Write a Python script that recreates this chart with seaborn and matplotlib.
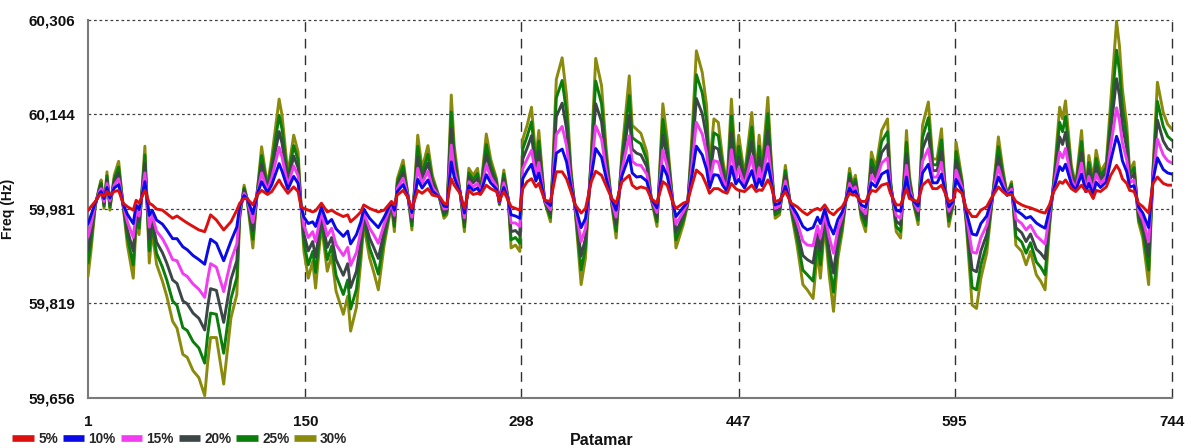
import numpy as np
import pandas as pd
import matplotlib
matplotlib.use("Agg")
import matplotlib.pyplot as plt
import seaborn as sns
from matplotlib.lines import Line2D

# Hourly dispatch level (patamar) at which each deviation was sampled
patamar = [
    1, 3, 6, 9, 10, 12, 14, 16, 19, 22, 25, 28, 32, 34, 36, 40, 43, 45, 48,
    52, 55, 59, 62, 66, 69, 73, 77, 81, 83, 85, 89, 94, 99, 103, 105,
    108, 110, 114, 117, 120, 124, 127, 132, 134, 138, 142, 145, 147,
    149, 152, 155, 157, 161, 165, 168, 171, 176, 179, 181, 185, 188, 190, 194, 197, 200, 204,
    209, 211, 213, 217, 220, 223, 227, 230, 234, 237, 242, 245, 247,
    250, 252, 256, 259, 262, 265, 268, 270, 274, 277, 281, 283, 286, 289, 291, 294, 297,
    299, 302, 305, 308, 310, 314, 318, 322, 326, 329, 332, 335, 339, 342, 346, 349, 353, 356, 360, 363, 367, 372,
    374, 377, 380, 384, 387, 391, 395, 398, 402, 404, 409, 412, 415, 418, 422, 425, 427, 430, 433, 436, 439, 442, 445, 447,
    451, 456, 459, 461, 463, 467, 469, 472, 475, 479, 483, 487, 491, 494,
    498, 501, 503, 506, 509, 512, 515, 518, 523, 525, 527, 531, 534, 538, 541, 545, 549, 551, 555, 558,
    562, 564, 567, 570, 573, 577, 580, 583, 586, 588, 591, 594, 596, 600, 603, 607, 610, 613, 617,
    620, 625, 628, 631, 634, 637, 641, 644, 647, 651, 654, 657, 660,
    663, 667, 669, 671, 675, 678, 682, 685, 687, 690, 692, 695, 699, 702,
    706, 708, 710, 713, 715, 718, 721, 724, 728, 731, 734, 738, 741, 744,
]

# Frequency deviation from the 59.981 Hz reference, in mHz, per penetration level
dev_5 = [
    -3, 4, 13, 24, 25, 22, 30, 24, 30, 32, 10, 4, -2, 15, 10, 32, 10, 7, 0,
    -2, -8, -16, -12, -19, -24, -30, -36, -39, -25, -10, -19, -36, -22, -2, 10,
    18, 18, 7, 24, 32, 25, 30, 50, 41, 27, 38, 30, 4,
    1, -2, -5, -3, 10, -5, -2, -7, -13, -10, -22, -13, -5, 7, 1, -2, -5, -2,
    13, 7, 24, 32, 21, 1, 32, 27, 35, 24, 21, 10, 8,
    52, 41, 27, 1, 32, 25, 27, 25, 41, 35, 30, 15, 30, 15, 4, 1, -2,
    35, 47, 52, 38, 44, 15, 13, 64, 64, 52, 30, 7, -7, 1, 47, 65, 58, 41, 18, 10, 47, 58,
    41, 35, 38, 35, 18, 10, 47, 41, 10, 1, 10, 13, 41, 67, 58, 41, 27, 35, 35, 30, 27, 44, 35, 32,
    30, 41, 30, 33, 32, 50, 41, 13, 15, 30, 10, 4, -5, -10,
    -2, 1, -2, 7, -5, -10, -2, 4, 27, 24, 24, 13, 13, 32, 30, 41, 44, 27, 7, 7,
    35, 18, 15, 13, 41, 50, 35, 35, 41, 30, 13, 15, 35, 27, 1, -13, -13, -2, 4,
    18, 38, 30, 24, 25, 13, 7, 4, 2, -2, -5, -7, 7,
    30, 47, 44, 50, 35, 30, 41, 30, 32, 18, 32, 30, 38, 58,
    75, 67, 52, 44, 32, 30, 10, 4, -7, 44, 55, 44, 41, 41,
]
dev_10 = [
    -26, -11, 11, 27, 30, 18, 37, 19, 36, 42, 9, -9, -25, 7, -1, 47, -11, -2, -19,
    -26, -36, -51, -51, -65, -70, -80, -87, -95, -73, -52, -59, -89, -55, -31, 5,
    23, 18, -8, 25, 47, 28, 42, 78, 65, 34, 56, 44, 5,
    -14, -25, -22, -30, 3, -25, -18, -34, -47, -38, -60, -44, -22, 0, -16, -24, -32, -14,
    12, -2, 30, 42, 23, -6, 51, 36, 50, 31, 20, 5, 4,
    81, 55, 28, -7, 40, 32, 36, 26, 59, 45, 34, 13, 37, 16, -10, -12, -16,
    52, 66, 77, 48, 62, 15, 6, 96, 103, 81, 38, 5, -32, -16, 57, 104, 89, 55, 16, -2, 57, 92,
    62, 55, 56, 48, 18, 2, 74, 57, 9, -13, 3, 12, 58, 108, 93, 68, 36, 59, 58, 41, 30, 73, 43, 51,
    36, 66, 36, 52, 40, 78, 52, 7, 10, 39, 7, -9, -30, -36,
    -32, -14, -25, 0, -27, -43, -18, -5, 36, 27, 31, 7, 3, 45, 38, 60, 66, 32, -2, -4,
    55, 26, 13, 5, 62, 77, 45, 45, 60, 36, 4, 13, 51, 32, -5, -43, -45, -25, -12,
    13, 55, 38, 24, 29, -2, -9, -16, -13, -24, -29, -33, -1,
    34, 73, 66, 77, 43, 32, 60, 30, 44, 25, 46, 37, 47, 83,
    125, 110, 83, 64, 38, 40, 4, -7, -32, 49, 88, 68, 62, 60,
]
dev_15 = [
    -48, -27, 10, 31, 35, 13, 44, 14, 41, 52, 9, -22, -49, -2, -12, 62, -31, -11, -38,
    -51, -65, -87, -89, -111, -116, -129, -138, -152, -121, -94, -100, -142, -88, -60, 0,
    27, 18, -23, 26, 62, 31, 54, 106, 89, 40, 74, 57, 5,
    -29, -49, -39, -56, -5, -46, -33, -61, -80, -66, -97, -75, -39, -7, -33, -45, -59, -26,
    11, -11, 35, 53, 25, -14, 70, 44, 65, 38, 20, 0, 1,
    110, 68, 28, -15, 47, 38, 44, 27, 76, 55, 39, 12, 45, 16, -24, -24, -30,
    69, 86, 101, 57, 80, 14, -1, 128, 142, 109, 46, 2, -56, -33, 67, 143, 120, 68, 13, -14, 67, 126,
    82, 76, 75, 60, 18, -6, 101, 73, 9, -26, -5, 11, 75, 149, 129, 96, 44, 83, 81, 52, 33, 102, 51, 70,
    41, 91, 41, 71, 47, 107, 64, 1, 5, 48, 4, -22, -55, -62,
    -63, -29, -49, -7, -48, -76, -35, -13, 44, 31, 38, 1, -8, 58, 46, 79, 88, 37, -11, -16,
    75, 34, 12, -3, 82, 104, 55, 55, 80, 41, -4, 12, 67, 37, -10, -74, -76, -49, -28,
    9, 72, 46, 24, 34, -17, -25, -36, -28, -46, -53, -60, -9,
    39, 98, 88, 104, 51, 34, 79, 30, 56, 32, 60, 44, 55, 108,
    174, 152, 114, 84, 45, 50, -3, -18, -56, 54, 120, 93, 83, 79,
]
dev_20 = [
    -71, -42, 8, 34, 40, 9, 50, 8, 47, 62, 8, -36, -72, -10, -22, 78, -52, -21, -57,
    -75, -93, -122, -128, -158, -163, -179, -188, -208, -169, -137, -140, -195, -121, -89, -6,
    32, 18, -37, 28, 77, 34, 66, 133, 113, 47, 91, 71, 6,
    -43, -72, -56, -83, -12, -66, -49, -87, -114, -94, -135, -107, -56, -13, -50, -67, -85, -38,
    10, -21, 41, 63, 26, -21, 89, 53, 79, 44, 19, -6, -3,
    138, 82, 29, -23, 55, 45, 53, 28, 94, 66, 43, 10, 52, 17, -39, -37, -45,
    86, 105, 126, 67, 99, 14, -8, 159, 182, 138, 54, 0, -81, -50, 78, 181, 150, 82, 11, -26, 78, 161,
    103, 96, 93, 73, 18, -14, 127, 89, 8, -40, -12, 9, 93, 190, 164, 123, 53, 107, 103, 64, 35, 131, 59, 89,
    47, 116, 47, 89, 55, 135, 75, -4, 0, 57, 1, -36, -80, -87,
    -93, -43, -72, -13, -70, -110, -51, -22, 53, 34, 44, -4, -18, 72, 54, 97, 111, 42, -21, -27,
    95, 42, 10, -11, 103, 130, 66, 66, 99, 47, -13, 10, 83, 42, -16, -104, -108, -72, -44,
    4, 90, 54, 24, 38, -32, -41, -56, -43, -69, -76, -86, -17,
    43, 124, 111, 132, 59, 37, 97, 30, 68, 38, 73, 50, 64, 134,
    224, 195, 144, 104, 51, 61, -9, -28, -81, 60, 153, 117, 104, 99,
]
dev_25 = [
    -93, -58, 7, 38, 45, 5, 57, 3, 52, 72, 8, -49, -96, -19, -33, 93, -72, -30, -76,
    -100, -122, -158, -166, -204, -209, -228, -239, -265, -217, -179, -181, -248, -154, -118, -11,
    36, 18, -52, 29, 92, 37, 78, 161, 137, 53, 109, 84, 6,
    -58, -96, -73, -109, -20, -87, -64, -114, -147, -122, -172, -138, -73, -20, -67, -88, -112, -50,
    8, -30, 46, 74, 28, -29, 108, 61, 94, 51, 19, -11, -6,
    167, 95, 29, -31, 62, 51, 61, 29, 111, 76, 48, 9, 60, 17, -53, -49, -59,
    103, 125, 150, 76, 117, 13, -15, 191, 221, 166, 62, -3, -105, -67, 88, 220, 181, 95, 9, -38, 88, 195,
    123, 117, 112, 85, 18, -22, 154, 105, 8, -53, -20, 8, 110, 231, 200, 151, 61, 131, 126, 75, 38, 160, 67, 108,
    52, 141, 52, 108, 62, 164, 87, -10, -5, 66, -2, -49, -105, -113,
    -124, -58, -96, -20, -91, -143, -68, -30, 61, 38, 51, -10, -29, 85, 62, 116, 133, 47, -30, -39,
    115, 50, 9, -19, 123, 157, 76, 76, 119, 52, -21, 9, 99, 47, -21, -135, -139, -96, -60,
    0, 107, 62, 24, 43, -47, -57, -76, -58, -91, -100, -113, -25,
    48, 149, 133, 159, 67, 39, 116, 30, 80, 45, 87, 57, 72, 159,
    273, 237, 175, 124, 58, 71, -16, -39, -105, 65, 185, 142, 125, 118,
]
dev_30 = [
    -116, -73, 5, 41, 50, 1, 64, -2, 58, 82, 7, -62, -119, -27, -44, 108, -93, -39, -95,
    -124, -150, -193, -205, -250, -255, -278, -290, -321, -265, -221, -221, -301, -187, -147, -16,
    41, 18, -67, 30, 107, 40, 90, 189, 161, 60, 127, 98, 7,
    -73, -119, -90, -136, -27, -107, -80, -141, -181, -150, -210, -169, -90, -27, -84, -110, -139, -62,
    7, -39, 52, 84, 30, -36, 127, 70, 109, 58, 18, -16, -10,
    196, 109, 30, -39, 70, 58, 70, 30, 129, 86, 52, 7, 67, 18, -67, -62, -73,
    120, 144, 175, 86, 135, 13, -22, 223, 260, 195, 70, -5, -130, -84, 98, 259, 212, 109, 7, -50, 98, 229,
    144, 137, 130, 98, 18, -30, 181, 121, 7, -67, -27, 7, 127, 272, 235, 178, 70, 155, 149, 86, 41, 189, 75, 127,
    58, 166, 58, 127, 70, 192, 98, -16, -10, 75, -5, -62, -130, -139,
    -154, -73, -119, -27, -113, -176, -84, -39, 70, 41, 58, -16, -39, 98, 70, 135, 155, 52, -39, -50,
    135, 58, 7, -27, 144, 184, 86, 86, 138, 58, -30, 7, 115, 52, -27, -165, -171, -119, -76,
    -5, 124, 70, 24, 47, -62, -73, -96, -73, -113, -124, -139, -33,
    52, 175, 155, 186, 75, 41, 135, 30, 92, 52, 101, 64, 81, 184,
    323, 280, 206, 144, 64, 81, -22, -50, -130, 70, 218, 166, 146, 137,
]

series_labels = ["5%", "10%", "15%", "20%", "25%", "30%"]
series_devs = [dev_5, dev_10, dev_15, dev_20, dev_25, dev_30]
series_colors = ["#DD1010", "#0A0AE6", "#F23CF2", "#3C4646", "#0B7D0B", "#8A8A0C"]

nominal_hz = 59.981
x_ticks = [1, 150, 298, 447, 595, 744]
y_ticks = [59.656, 59.819, 59.981, 60.144, 60.306]
y_tick_labels = ["59,656", "59,819", "59,981", "60,144", "60,306"]

frames = []
for lab, dev in zip(series_labels, series_devs):
    frames.append(pd.DataFrame({
        "Patamar": patamar,
        "Freq": nominal_hz + np.asarray(dev, dtype=float) / 1000.0,
        "Serie": lab,
    }))
data = pd.concat(frames, ignore_index=True)

sns.set_theme(style="white")
plt.rcParams["font.family"] = ["Liberation Sans", "DejaVu Sans"]
plt.rcParams["font.weight"] = "bold"

W, H = 1191, 448
fig = plt.figure(figsize=(W / 100, H / 100), dpi=100)
ax = fig.add_axes([88 / W, 1 - 398 / H, (1172 - 88) / W, (398 - 20) / H])

# the widest band is drawn underneath, the 5 % curve on top
handles = []
for k, (lab, col) in enumerate(zip(series_labels, series_colors)):
    sub = data[data["Serie"] == lab]
    sns.lineplot(data=sub, x="Patamar", y="Freq", color=col, linewidth=2.1,
                 ax=ax, zorder=10 - k, legend=False, estimator=None)
    handles.append(Line2D([0], [0], color=col, lw=4.8, solid_capstyle="butt"))

ax.set_xlim(x_ticks[0], x_ticks[-1])
ax.set_ylim(y_ticks[0], y_ticks[-1])

# grid: dashed verticals, dotted horizontals
for xv in x_ticks[1:]:
    ax.axvline(xv, color="#303030", lw=1.0, ls=(0, (7, 5)), zorder=1, clip_on=False)
for yv in y_ticks[1:]:
    ax.axhline(yv, color="#404040", lw=0.9, ls=(0, (2.2, 2.2)), zorder=1, clip_on=False)

for side in ("top", "right"):
    ax.spines[side].set_visible(False)
for side in ("left", "bottom"):
    ax.spines[side].set_color("#7a7a7a")
    ax.spines[side].set_linewidth(1.5)

ax.set_xticks(x_ticks)
ax.set_xticklabels([str(v) for v in x_ticks])
ax.set_yticks(y_ticks)
ax.set_yticklabels(y_tick_labels)
ax.tick_params(axis="y", direction="out", length=5, width=1.2, color="#7a7a7a",
               pad=4, labelsize=11, labelcolor="#111111")
ax.tick_params(axis="x", direction="inout", length=10, width=1.2, color="#555555",
               pad=7, labelsize=11, labelcolor="#111111")
for t in ax.get_xticklabels() + ax.get_yticklabels():
    t.set_fontweight("bold")

ax.set_xlabel("")
ax.set_ylabel("Freq (Hz)", fontsize=10, fontweight="bold", color="#111111")
ax.yaxis.set_label_coords(-(88 - 15) / (1172 - 88), 0.5)

fig.text(602 / W, 1 - 440 / H, "Patamar", ha="center", va="center",
         fontsize=11.5, fontweight="bold", color="#111111")

fig.legend(handles, series_labels, loc="lower left", bbox_to_anchor=(0.0, -0.022),
           ncol=6, frameon=False, handlelength=1.6, handletextpad=0.3,
           columnspacing=0.35, prop={"weight": "bold", "size": 9.8})

fig.savefig("out.png", dpi=100, facecolor="white")
